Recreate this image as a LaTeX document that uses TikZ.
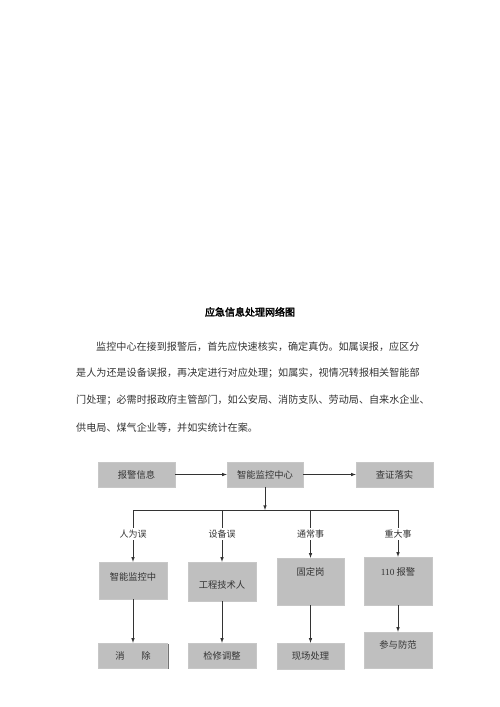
\documentclass[tikz,border=0pt]{standalone}
\usepackage{fontspec}
\setmainfont{Liberation Serif}
\newfontfamily\hei[AutoFakeBold=2.5]{Noto Sans CJK SC}
\usetikzlibrary{shadows}

\begin{document}
\begin{tikzpicture}[x=1pt, y=-1pt,
   every node/.style={font=\hei\fontsize{9.3}{11}\selectfont, text=black!80},
   box/.style 2 args={draw=black!22, fill=black!25, inner sep=0pt,
      minimum width=#1, minimum height=#2,
      drop shadow={shadow xshift=1.3pt, shadow yshift=-1.3pt, fill=black!55, opacity=1}},
   tag/.style={inner sep=2pt, font=\hei\fontsize{9}{10}\selectfont},
   para/.style={anchor=base west, inner sep=0pt, font=\hei\fontsize{10.1}{12}\selectfont},
   link/.style={line width=0.6pt, draw=black!80},
   >=latex]

\useasboundingbox (0,0) rectangle (500,707);

\node[anchor=base, inner sep=0pt, text=black, font=\hei\bfseries\fontsize{10}{12}\selectfont]
   (title) at (250,315.8) {应急信息处理网络图};
\node[para] (p1) at (96,350.8) {监控中心在接到报警后，首先应快速核实，确定真伪。如属误报，应区分};
\node[para] (p2) at (76,376.8) {是人为还是设备误报，再决定进行对应处理；如属实，视情况转报相关智能部};
\node[para] (p3) at (76,403.8) {门处理；必需时报政府主管部门，如公安局、消防支队、劳动局、自来水企业、};
\node[para] (p4) at (76,431.8) {供电局、煤气企业等，并如实统计在案。};

\node[box={77pt}{25pt}] (alarm)  at (136.5,474.5) {报警信息};
\node[box={76pt}{25pt}] (center) at (265,474.5)   {智能监控中心};
\node[box={77pt}{25pt}] (verify) at (394.5,474.5) {查证落实};

\coordinate (j1) at (133,510);
\coordinate (j2) at (222,510);
\coordinate (j3) at (310.5,510);
\coordinate (j4) at (398,510);
\coordinate (jc) at (265,510);

\node[tag] (l1) at (133,534)   {人为误};
\node[tag] (l2) at (222,534)   {设备误};
\node[tag] (l3) at (310.5,534) {通常事};
\node[tag] (l4) at (398,534)   {重大事};

\node[box={68pt}{37pt}, text height=7pt, text depth=7.2pt]  (b1) at (133,580.5)   {智能监控中};
\node[box={68pt}{39pt}, text height=13.8pt, text depth=0pt] (b2) at (222,581.5)   {工程技术人};
\node[box={67pt}{47pt}, text height=7pt, text depth=19.2pt] (b3) at (310.5,581.5) {固定岗};
\node[box={68pt}{48pt}, text height=7pt, text depth=18.2pt] (b4) at (398,581)     {{\rmfamily 110}\ 报警};

\node[box={69pt}{25pt}] (c1) at (133,655.5)   {消\hspace{1.8em}除};
\node[box={68pt}{25pt}] (c2) at (222,655.5)   {检修调整};
\node[box={67pt}{26pt}] (c3) at (310.5,656)   {现场处理};
\node[box={68pt}{36pt}, text height=7pt, text depth=10.2pt] (c4) at (398,650) {参与防范};

\draw[link, ->] (alarm) -- (center);
\draw[link, ->] (center) -- (verify);
\draw[link, ->] (center) -- (jc);
\draw[link] (j1) -- (j4);

\draw[link] (j1) -- (l1);
\draw[link] (j2) -- (l2);
\draw[link] (j3) -- (l3);
\draw[link] (j4) -- (l4);
\draw[link, ->] (l1) -- (b1);
\draw[link, ->] (l2) -- (b2);
\draw[link, ->] (l3) -- (b3);
\draw[link, ->] (l4) -- (b4);

\draw[link, ->] (b1) -- (c1);
\draw[link, ->] (b2) -- (c2);
\draw[link, ->] (b3) -- (c3);
\draw[link, ->] (b4) -- (c4);

\end{tikzpicture}
\end{document}
